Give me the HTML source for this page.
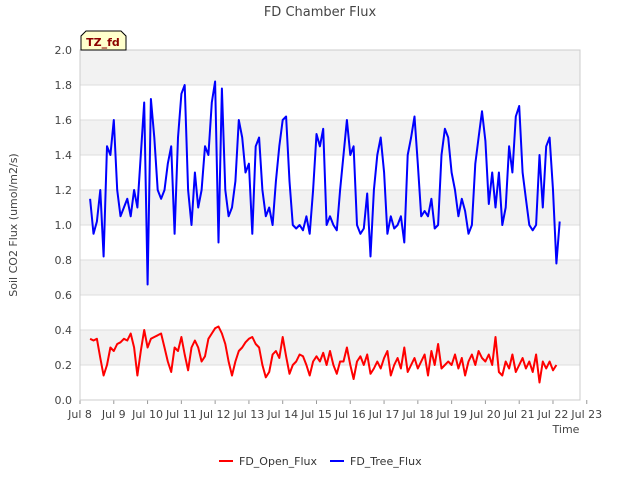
<!DOCTYPE html>
<html><head><meta charset="utf-8"><style>
body{margin:0;background:#fff;font-family:"Liberation Sans","DejaVu Sans",sans-serif}
svg text{font-family:"DejaVu Sans","Liberation Sans",sans-serif}
</style></head><body>
<svg id="chart" width="640" height="480" viewBox="0 0 640 480" xmlns="http://www.w3.org/2000/svg">
<text x="320" y="16" text-anchor="middle" font-size="13" fill="#444">FD Chamber Flux</text>
<g id="bands"></g><g id="grid"></g><g id="yticks"></g><g id="xticks"></g>
<rect x="80" y="50" width="500" height="350" fill="none" stroke="#ccc"/>
<g id="series"></g>
<text transform="translate(17,225) rotate(-90)" text-anchor="middle" font-size="11" fill="#444">Soil CO2 Flux (umol/m2/s)</text>
<text x="566" y="433" text-anchor="middle" font-size="11" fill="#444">Time</text>
<g><path d="M81,50 L81,36 L86,31 L121,31 L126,36 L126,50 Z" fill="#ffffcc" stroke="#000"/><text x="103" y="46" text-anchor="middle" font-size="11" font-weight="bold" fill="#8b0000">TZ_fd</text></g>
<g>
<g><line x1="219" y1="461" x2="233" y2="461" stroke="#f00" stroke-width="2"/><text x="239" y="465" font-size="11" fill="#333">FD_Open_Flux</text></g>
<g><line x1="330" y1="461" x2="344" y2="461" stroke="#00f" stroke-width="2"/><text x="350" y="465" font-size="11" fill="#333">FD_Tree_Flux</text></g>
</g>
</svg>
<script>
const yTicks=[0,0.2,0.4,0.6,0.8,1.0,1.2,1.4,1.6,1.8,2.0];
const xTickDays=[8,9,10,11,12,13,14,15,16,17,18,19,20,21,22,23];
const xTickLabels=xTickDays.map(d=>"Jul "+d);
const startDay=8.3, stepDay=0.1;
const treeFlux=[1.15,0.95,1.02,1.2,0.82,1.45,1.4,1.6,1.2,1.05,1.1,1.15,1.05,1.2,1.1,1.4,1.7,0.66,1.72,1.5,1.2,1.15,1.2,1.35,1.45,0.95,1.5,1.75,1.8,1.2,1.0,1.3,1.1,1.2,1.45,1.4,1.7,1.82,0.9,1.78,1.2,1.05,1.1,1.25,1.6,1.5,1.3,1.35,0.95,1.45,1.5,1.2,1.05,1.1,1.0,1.25,1.45,1.6,1.62,1.25,1.0,0.98,1.0,0.97,1.05,0.95,1.2,1.52,1.45,1.55,1.0,1.05,1.0,0.97,1.2,1.4,1.6,1.4,1.45,1.0,0.95,0.98,1.18,0.82,1.2,1.4,1.5,1.3,0.95,1.05,0.98,1.0,1.05,0.9,1.4,1.5,1.62,1.35,1.05,1.08,1.05,1.15,0.98,1.0,1.4,1.55,1.5,1.3,1.2,1.05,1.15,1.08,0.95,1.0,1.35,1.5,1.65,1.48,1.12,1.3,1.1,1.3,1.0,1.1,1.45,1.3,1.62,1.68,1.3,1.15,1.0,0.97,1.0,1.4,1.1,1.45,1.5,1.2,0.78,1.02];
const openFlux=[0.35,0.34,0.35,0.24,0.14,0.2,0.3,0.28,0.32,0.33,0.35,0.34,0.38,0.3,0.14,0.28,0.4,0.3,0.35,0.36,0.37,0.38,0.3,0.22,0.16,0.3,0.28,0.36,0.26,0.17,0.3,0.34,0.3,0.22,0.25,0.35,0.38,0.41,0.42,0.38,0.32,0.22,0.14,0.22,0.28,0.3,0.33,0.35,0.36,0.32,0.3,0.2,0.13,0.16,0.26,0.28,0.24,0.36,0.25,0.15,0.2,0.22,0.26,0.25,0.2,0.14,0.22,0.25,0.22,0.27,0.2,0.28,0.2,0.15,0.22,0.22,0.3,0.2,0.12,0.22,0.25,0.2,0.26,0.15,0.18,0.22,0.18,0.24,0.28,0.14,0.2,0.24,0.18,0.3,0.16,0.2,0.24,0.18,0.22,0.26,0.14,0.28,0.2,0.32,0.18,0.2,0.22,0.2,0.26,0.18,0.24,0.14,0.22,0.26,0.2,0.28,0.24,0.22,0.26,0.2,0.36,0.16,0.14,0.22,0.18,0.26,0.16,0.2,0.24,0.18,0.22,0.16,0.26,0.1,0.22,0.18,0.22,0.17,0.2];
const NS="http://www.w3.org/2000/svg";
const X0=80,X1=580,Y0=400,Y1=50;
const xScale=d=>X0+(d-8)*(X1-X0)/14.8;
const yScale=v=>Y0-(v-0)*(Y0-Y1)/2.0;
function mk(tag,attrs,parent){const e=document.createElementNS(NS,tag);for(const k in attrs)e.setAttribute(k,attrs[k]);parent.appendChild(e);return e;}
const bands=document.getElementById('bands'),grid=document.getElementById('grid'),yt=document.getElementById('yticks'),xt=document.getElementById('xticks'),ser=document.getElementById('series');
for(let i=0;i<yTicks.length-1;i++){
  if(i%2===1){const r=mk('rect',{x:X0,y:yScale(yTicks[i+1]),width:X1-X0,height:yScale(yTicks[i])-yScale(yTicks[i+1]),fill:'#f2f2f2'},bands);
  
  }
}
yTicks.forEach(v=>{
  const l=mk('line',{x1:X0,x2:X1,y1:yScale(v),y2:yScale(v),stroke:'#ddd'},grid);
  
  
  const t=mk('text',{x:X0-8,y:yScale(v)+4,'text-anchor':'end','font-size':'11',fill:'#444'},yt);
  t.textContent=v.toFixed(1);
  
  
});
xTickDays.forEach((d,i)=>{
  const x=xScale(d);
  mk('line',{x1:x,x2:x,y1:Y0,y2:Y0+4,stroke:'#999'},xt);
  const t=mk('text',{x:x,y:Y0+18,'text-anchor':'middle','font-size':'11',fill:'#444'},xt);
  t.textContent=xTickLabels[i];
  
  
});
function line(vals,color,name){
  const pts=vals.map((v,i)=>xScale(startDay+i*stepDay).toFixed(1)+','+yScale(v).toFixed(1)).join(' ');
  const p=mk('polyline',{points:pts,fill:'none',stroke:color,'stroke-width':'2','stroke-linejoin':'round'},ser);
  
  
}
line(treeFlux,'#0000ff','tree-flux-line');
line(openFlux,'#ff0000','open-flux-line');
</script>
</body></html>
